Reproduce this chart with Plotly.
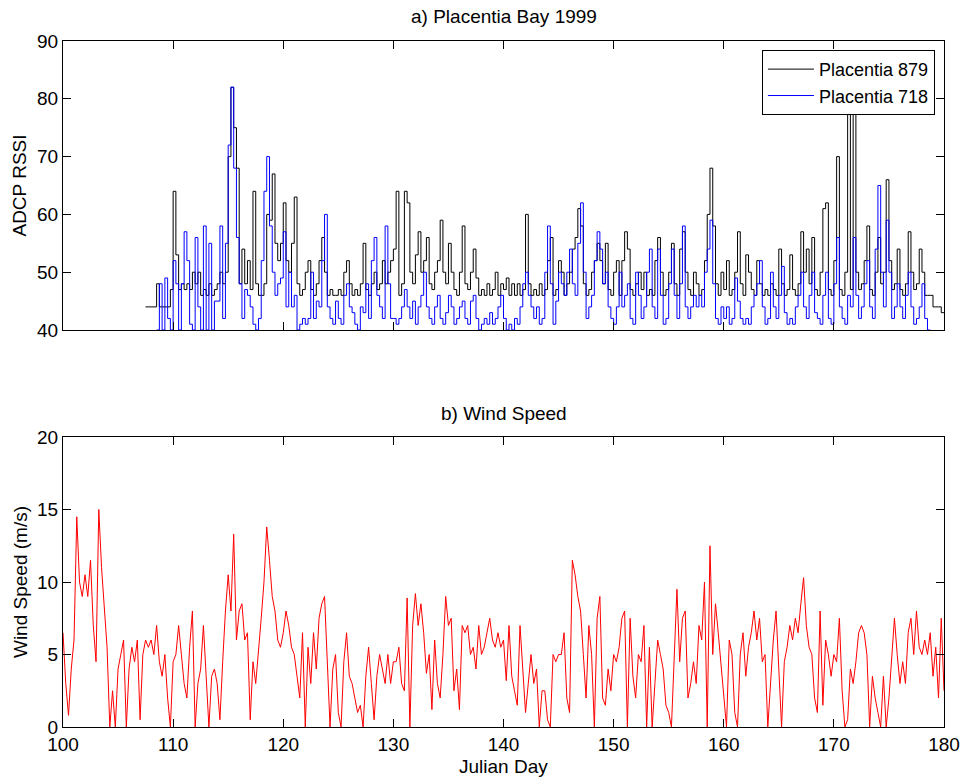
import numpy as np
import plotly.graph_objects as go

# ---------------- data ----------------
STEP = 0.25  # days between samples

wind_start = 100.0
wind_speed = [
    6.5, 3.0, 0.8, 4.0,    # 100
    6.0, 14.5, 10.0, 9.0,  # 101
    10.5, 9.0, 11.5, 7.0,  # 102
    4.5, 15.0, 11.0, 8.0,  # 103
    5.5, 0.0, 2.5, 0.0,    # 104
    4.0, 5.0, 6.0, 0.0,    # 105
    4.0, 5.5, 4.5, 6.0,    # 106
    0.5, 5.0, 6.0, 5.5,    # 107
    6.0, 5.0, 7.0, 4.5,    # 108
    3.5, 5.0, 2.0, 0.0,    # 109
    4.5, 5.0, 7.0, 5.0,    # 110
    3.0, 2.0, 5.5, 8.0,    # 111
    0.0, 3.0, 4.0, 7.0,    # 112
    3.0, 0.0, 3.5, 4.0,    # 113
    3.0, 0.5, 4.5, 8.0,    # 114
    10.5, 8.0, 13.3, 6.0,  # 115
    8.0, 8.5, 6.0, 6.5,    # 116
    0.5, 4.5, 3.0, 5.0,    # 117
    7.5, 10.0, 13.8, 11.5, # 118
    9.0, 8.0, 6.0, 5.5,    # 119
    6.5, 8.0, 7.0, 5.5,    # 120
    5.0, 3.5, 2.0, 6.5,    # 121
    0.0, 5.5, 3.0, 6.5,    # 122
    4.0, 7.5, 8.5, 9.0,    # 123
    4.0, 0.0, 4.0, 5.0,    # 124
    1.0, 0.0, 4.5, 6.5,    # 125
    3.5, 3.0, 2.0, 1.0,    # 126
    1.5, 0.0, 3.5, 5.5,    # 127
    3.0, 0.5, 3.5, 5.0,    # 128
    4.0, 3.0, 5.0, 3.0,    # 129
    4.5, 4.5, 5.5, 3.0,    # 130
    2.5, 8.9, 0.0, 7.0,    # 131
    9.2, 7.0, 8.5, 6.5,    # 132
    3.7, 5.0, 1.2, 6.0,    # 133
    3.0, 2.0, 5.0, 9.0,    # 134
    7.0, 7.5, 2.5, 4.0,    # 135
    1.2, 7.0, 6.5, 7.0,    # 136
    5.0, 5.5, 4.0, 7.0,    # 137
    5.0, 5.5, 6.5, 7.5,    # 138
    6.0, 5.5, 6.5, 5.5,    # 139
    6.0, 3.2, 7.0, 3.5,    # 140
    2.5, 1.5, 7.0, 4.0,    # 141
    1.0, 3.0, 5.0, 3.0,    # 142
    4.0, 0.0, 2.5, 2.5,    # 143
    0.5, 0.0, 5.0, 4.5,    # 144
    5.0, 5.0, 6.5, 2.0,    # 145
    1.0, 11.5, 10.5, 9.0,  # 146
    8.0, 5.0, 2.0, 7.0,    # 147
    5.0, 0.0, 7.5, 9.0,    # 148
    2.0, 1.5, 4.0, 2.5,    # 149
    5.0, 4.5, 5.5, 7.5,    # 150
    8.0, 0.0, 7.5, 3.5,    # 151
    2.0, 5.0, 4.5, 7.0,    # 152
    0.0, 5.5, 0.0, 3.0,    # 153
    6.0, 5.0, 4.0, 1.5,    # 154
    1.0, 0.0, 5.0, 9.5,    # 155
    4.5, 7.5, 8.0, 2.0,    # 156
    3.0, 4.5, 3.0, 7.0,    # 157
    6.0, 10.0, 0.0, 12.5,  # 158
    5.0, 8.5, 6.5, 4.5,    # 159
    2.0, 0.0, 6.0, 5.0,    # 160
    1.0, 0.0, 5.0, 6.5,    # 161
    3.5, 5.5, 6.5, 8.0,    # 162
    6.0, 7.5, 4.5, 5.0,    # 163
    0.0, 3.0, 6.0, 8.0,    # 164
    3.5, 0.0, 4.5, 5.5,    # 165
    7.0, 6.0, 7.5, 6.5,    # 166
    8.5, 10.3, 7.0, 5.5,   # 167
    5.0, 2.0, 1.0, 8.0,    # 168
    1.5, 6.0, 5.0, 3.5,    # 169
    5.0, 4.5, 7.5, 2.5,    # 170
    0.0, 0.5, 4.0, 3.0,    # 171
    4.5, 6.5, 7.0, 6.5,    # 172
    5.0, 0.0, 3.5, 2.0,    # 173
    1.0, 0.0, 3.5, 0.0,    # 174
    2.0, 4.5, 7.5, 5.0,    # 175
    3.0, 4.5, 3.0, 6.5,    # 176
    7.5, 5.0, 8.0, 5.5,    # 177
    5.0, 6.0, 5.0, 6.5,    # 178
    3.5, 5.5, 2.0, 7.5,    # 179
    2.5,                   # 180
]

rssi_879_start = 107.5
rssi_879 = [
    44, 44,                # 107.5
    44, 44, 48, 44,        # 108
    44, 44, 44, 47,        # 109
    64, 53, 47, 48,        # 110
    47, 48, 47, 50,        # 111
    48, 50, 46, 47,        # 112
    46, 48, 46, 47,        # 113
    48, 50, 48, 50,        # 114
    70, 82, 75, 68,        # 115
    48, 54, 48, 52,        # 116
    47, 64, 48, 46,        # 117
    46, 48, 60, 59,        # 118
    67, 55, 52, 55,        # 119
    62, 52, 50, 55,        # 120
    63, 48, 46, 47,        # 121
    50, 52, 47, 46,        # 122
    48, 52, 56, 50,        # 123
    46, 47, 46, 46,        # 124
    47, 46, 50, 52,        # 125
    48, 46, 47, 46,        # 126
    48, 55, 47, 46,        # 127
    48, 50, 47, 48,        # 128
    52, 48, 50, 52,        # 129
    54, 64, 46, 48,        # 130
    64, 62, 50, 48,        # 131
    53, 57, 50, 52,        # 132
    56, 48, 47, 50,        # 133
    52, 59, 50, 48,        # 134
    55, 50, 47, 46,        # 135
    50, 58, 48, 47,        # 136
    50, 54, 49, 46,        # 137
    47, 46, 48, 46,        # 138
    47, 50, 46, 48,        # 139
    47, 49, 46, 48,        # 140
    46, 48, 46, 47,        # 141
    60, 48, 46, 47,        # 142
    46, 48, 46, 47,        # 143
    52, 56, 46, 47,        # 144
    52, 50, 46, 48,        # 145
    50, 54, 56, 61,        # 146
    58, 48, 46, 47,        # 147
    50, 52, 55, 52,        # 148
    48, 55, 47, 46,        # 149
    50, 52, 46, 52,        # 150
    57, 54, 47, 46,        # 151
    48, 50, 47, 50,        # 152
    46, 47, 46, 52,        # 153
    56, 50, 46, 47,        # 154
    50, 55, 48, 46,        # 155
    54, 57, 50, 47,        # 156
    46, 50, 48, 46,        # 157
    47, 52, 60, 68,        # 158
    58, 48, 46, 50,        # 159
    47, 52, 46, 47,        # 160
    50, 57, 48, 46,        # 161
    53, 50, 47, 46,        # 162
    52, 48, 46, 47,        # 163
    46, 48, 47, 46,        # 164
    54, 48, 46, 47,        # 165
    53, 47, 46, 48,        # 166
    57, 50, 54, 48,        # 167
    56, 47, 46, 50,        # 168
    61, 62, 47, 46,        # 169
    52, 70, 47, 46,        # 170
    50, 79, 47, 78,        # 171
    50, 47, 48, 52,        # 172
    58, 47, 46, 50,        # 173
    56, 48, 50, 66,        # 174
    52, 47, 48, 54,        # 175
    47, 46, 48, 57,        # 176
    50, 47, 48, 54,        # 177
    50, 46, 46, 46,        # 178
    44, 44, 44, 43,        # 179
    43,                    # 180
]

rssi_718_start = 108.5
rssi_718 = [
    40, 48,                # 108.5
    40, 49, 42, 40,        # 109
    52, 48, 40, 48,        # 110
    57, 52, 41, 40,        # 111
    56, 44, 40, 58,        # 112
    40, 55, 40, 45,        # 113
    45, 58, 42, 55,        # 114
    72, 82, 68, 56,        # 115
    48, 42, 47, 46,        # 116
    44, 41, 40, 42,        # 117
    52, 64, 70, 58,        # 118
    50, 46, 48, 49,        # 119
    57, 44, 50, 44,        # 120
    46, 40, 41, 42,        # 121
    41, 42, 50, 42,        # 122
    45, 44, 52, 60,        # 123
    44, 42, 41, 45,        # 124
    42, 41, 46, 48,        # 125
    44, 43, 41, 40,        # 126
    44, 43, 48, 42,        # 127
    52, 56, 46, 44,        # 128
    42, 58, 48, 42,        # 129
    42, 41, 42, 44,        # 130
    47, 44, 42, 45,        # 131
    41, 44, 46, 50,        # 132
    44, 42, 41, 44,        # 133
    46, 42, 41, 43,        # 134
    46, 44, 41, 42,        # 135
    44, 45, 42, 41,        # 136
    45, 46, 42, 40,        # 137
    41, 42, 41, 43,        # 138
    41, 42, 44, 46,        # 139
    42, 40, 41, 40,        # 140
    42, 41, 44, 48,        # 141
    50, 46, 44, 42,        # 142
    44, 41, 42, 50,        # 143
    58, 48, 41, 45,        # 144
    50, 48, 46, 50,        # 145
    54, 48, 46, 55,        # 146
    62, 50, 42, 44,        # 147
    46, 52, 57, 54,        # 148
    48, 50, 44, 42,        # 149
    41, 44, 50, 44,        # 150
    46, 48, 42, 41,        # 151
    50, 46, 42, 44,        # 152
    50, 54, 44, 42,        # 153
    54, 46, 41, 42,        # 154
    48, 54, 46, 42,        # 155
    48, 58, 44, 42,        # 156
    44, 46, 44, 46,        # 157
    44, 50, 54, 59,        # 158
    48, 42, 41, 44,        # 159
    42, 44, 41, 42,        # 160
    49, 45, 42, 41,        # 161
    42, 41, 44, 46,        # 162
    48, 52, 44, 41,        # 163
    42, 50, 44, 42,        # 164
    46, 51, 43, 41,        # 165
    42, 41, 44, 46,        # 166
    50, 44, 42, 46,        # 167
    50, 43, 42, 41,        # 168
    46, 50, 42, 41,        # 169
    48, 56, 44, 42,        # 170
    41, 46, 44, 56,        # 171
    46, 42, 44, 48,        # 172
    52, 44, 42, 54,        # 173
    65, 50, 44, 59,        # 174
    50, 42, 44, 48,        # 175
    44, 42, 46, 50,        # 176
    44, 41, 42, 44,        # 177
    48, 42, 40, 40,        # 178
]

x_ticks = [100, 110, 120, 130, 140, 150, 160, 170, 180]


def days(start, values):
    return start + STEP * np.arange(len(values))


# ---------------- figure ----------------
FONT = "Arial, Liberation Sans, Helvetica, sans-serif"
FS = 19
fig = go.Figure()

fig.add_trace(go.Scatter(x=days(rssi_879_start, rssi_879), y=rssi_879, mode="lines",
                         name="Placentia 879", line=dict(color="black", width=1, shape="hv"),
                         xaxis="x", yaxis="y"))
fig.add_trace(go.Scatter(x=days(rssi_718_start, rssi_718), y=rssi_718, mode="lines",
                         name="Placentia 718", line=dict(color="#0000ff", width=1, shape="hv"),
                         xaxis="x", yaxis="y"))
fig.add_trace(go.Scatter(x=days(wind_start, wind_speed), y=wind_speed, mode="lines",
                         name="Wind", showlegend=False, line=dict(color="#ff0000", width=1),
                         xaxis="x2", yaxis="y2"))

axis_common = dict(showline=True, linecolor="black", linewidth=1, mirror="ticks",
                   ticks="inside", ticklen=8, tickcolor="black", tickwidth=1,
                   showgrid=False, zeroline=False, automargin=False,
                   tickfont=dict(family=FONT, size=FS, color="black"))

fig.update_layout(
    width=964, height=780,
    margin=dict(l=63, r=20, t=41, b=53),
    paper_bgcolor="white", plot_bgcolor="white",
    font=dict(family=FONT, size=FS, color="black"),
    xaxis=dict(domain=[0, 1], range=[100, 180], tickvals=x_ticks, showticklabels=False,
               anchor="y", **axis_common),
    yaxis=dict(domain=[0.5787, 1], range=[40, 90], dtick=10, anchor="x", **axis_common),
    xaxis2=dict(domain=[0, 1], range=[100, 180], tickvals=x_ticks, anchor="y2",
                **axis_common),
    yaxis2=dict(domain=[0, 0.4227], range=[0, 20], dtick=5, anchor="x2", **axis_common),
    legend=dict(x=0.9897, xanchor="right", y=0.987, yanchor="top",
                bgcolor="white", bordercolor="black", borderwidth=1,
                font=dict(family=FONT, size=18, color="black"),
                itemwidth=46, tracegroupgap=0),
    showlegend=True,
)

annotations = [
    dict(text="a) Placentia Bay 1999", x=0.5, y=1.035, xref="paper", yref="paper",
         xanchor="center", yanchor="middle", showarrow=False, font=dict(size=FS)),
    dict(text="b) Wind Speed", x=0.5, y=0.4577, xref="paper", yref="paper",
         xanchor="center", yanchor="middle", showarrow=False, font=dict(size=FS)),
    dict(text="Julian Day", x=0.5, y=-0.0583, xref="paper", yref="paper",
         xanchor="center", yanchor="middle", showarrow=False, font=dict(size=FS)),
    dict(text="ADCP RSSI", x=0, y=0.7893, xref="paper", yref="paper", xshift=-43,
         xanchor="center", yanchor="middle", textangle=-90, showarrow=False,
         font=dict(size=FS)),
    dict(text="Wind Speed (m/s)", x=0, y=0.2113, xref="paper", yref="paper", xshift=-43,
         xanchor="center", yanchor="middle", textangle=-90, showarrow=False,
         font=dict(size=FS)),
]
fig.update_layout(annotations=annotations)

fig.write_html("out.html")
